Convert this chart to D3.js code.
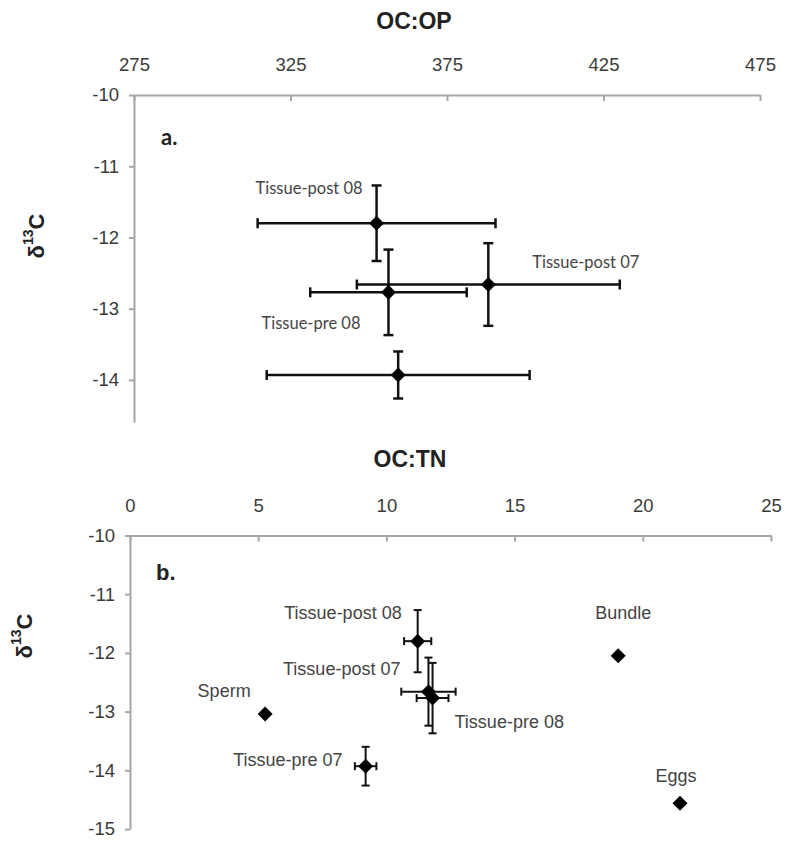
<!DOCTYPE html>
<html>
<head>
<meta charset="utf-8">
<script src="https://cdn.jsdelivr.net/npm/d3@7/dist/d3.min.js"></script>
<style>
  html, body { margin: 0; padding: 0; background: #fff; }
  svg { display: block; }
</style>
</head>
<body>
<svg id="chart" width="787" height="842"></svg>
<script>
// Tissue groups (shared by both panels)
const tissueGroups = ["Tissue-post 08", "Tissue-pre 08", "Tissue-post 07", "Tissue-pre 07"];
const tissueD13C = [-11.80, -12.77, -12.66, -13.93];
const tissueD13CErr = [0.53, 0.60, 0.58, 0.33];

// Panel a: OC:OP
const tissueOCOP = [352.5, 356.3, 388.2, 359.4];
const tissueOCOPErr = [38, 25, 42, 42];

// Panel b: OC:TN
const tissueOCTN = [11.22, 11.80, 11.64, 9.19];
const tissueOCTNErr = [0.53, 0.62, 1.06, 0.42];

// Reproductive samples (panel b only, no error bars)
const sampleNames = ["Sperm", "Bundle", "Eggs"];
const sampleOCTN = [5.27, 19.04, 21.45];
const sampleD13C = [-13.04, -12.05, -14.56];

// Axis ticks
const ocopTicks = [275, 325, 375, 425, 475];
const octnTicks = [0, 5, 10, 15, 20, 25];
const d13cTicksA = [-10, -11, -12, -13, -14];
const d13cTicksB = [-10, -11, -12, -13, -14, -15];

const svg = d3.select("#chart");
const AXIS_COLOR = "#a6a6a6";
const TICK_TEXT = "#3a3a3a";
const plainFormat = d => String(d); // keep ASCII hyphen-minus, no decimals

function diamond(sel, x, y, r) {
  sel.append("path")
    .attr("d", `M${x},${y - r}L${x + r},${y}L${x},${y + r}L${x - r},${y}Z`)
    .attr("fill", "#000");
}

function errorBars(g, cx, cy, x0, x1, y0, y1, cap, sw) {
  const stroke = "#111";
  g.append("line").attr("x1", x0).attr("x2", x1).attr("y1", cy).attr("y2", cy)
    .attr("stroke", stroke).attr("stroke-width", sw);
  [x0, x1].forEach(x => g.append("line").attr("x1", x).attr("x2", x)
    .attr("y1", cy - cap).attr("y2", cy + cap).attr("stroke", stroke).attr("stroke-width", sw));
  g.append("line").attr("x1", cx).attr("x2", cx).attr("y1", y0).attr("y2", y1)
    .attr("stroke", stroke).attr("stroke-width", sw);
  [y0, y1].forEach(y => g.append("line").attr("x1", cx - cap).attr("x2", cx + cap)
    .attr("y1", y).attr("y2", y).attr("stroke", stroke).attr("stroke-width", sw));
}

function styleAxis(g) {
  g.select(".domain").attr("stroke", AXIS_COLOR).attr("stroke-width", 2);
  g.selectAll(".tick line").attr("stroke", AXIS_COLOR).attr("stroke-width", 2);
  g.selectAll(".tick text")
    .attr("fill", TICK_TEXT)
    .style("font-family", "'Liberation Sans', Arial, sans-serif")
    .style("font-size", "18.5px");
}

function yTitle(x, y) {
  const t = svg.append("text")
    .attr("transform", `translate(${x},${y}) rotate(-90)`)
    .attr("text-anchor", "middle")
    .attr("dominant-baseline", "central")
    .style("font-family", "'Liberation Sans', Arial, sans-serif")
    .style("font-weight", "bold")
    .style("font-size", "22px")
    .attr("fill", "#222");
  t.append("tspan").text("δ");
  t.append("tspan").text("13").style("font-size", "14px").attr("dy", "-8");
  t.append("tspan").text("C").attr("dy", "8");
}

function xTitle(x, y, txt) {
  svg.append("text")
    .attr("x", x).attr("y", y)
    .attr("text-anchor", "middle")
    .attr("dominant-baseline", "central")
    .style("font-family", "'Liberation Sans', Arial, sans-serif")
    .style("font-weight", "bold")
    .style("font-size", "23px")
    .attr("fill", "#222")
    .text(txt);
}

function panelLetter(x, y, txt, font) {
  svg.append("text")
    .attr("x", x).attr("y", y)
    .attr("dominant-baseline", "central")
    .style("font-family", font)
    .style("font-weight", "bold")
    .style("font-size", "22px")
    .attr("fill", "#222")
    .text(txt);
}

function pointLabel(g, x, y, txt, anchor, font, size) {
  g.append("text")
    .attr("x", x).attr("y", y)
    .attr("text-anchor", anchor)
    .attr("dominant-baseline", "central")
    .style("font-family", font)
    .style("font-size", size)
    .attr("fill", "#444")
    .text(txt);
}

// ---------------- Panel a ----------------
{
  const left = 134, right = 760, top = 95, bottom = 422;
  const x = d3.scaleLinear().domain([275, 475]).range([left, right]);
  const y = d3.scaleLinear().domain([-10, -14.59]).range([top, bottom]);

  const gx = svg.append("g").attr("transform", `translate(0,${top})`)
    .call(d3.axisTop(x).tickValues(ocopTicks).tickFormat(plainFormat)
      .tickSizeInner(-6).tickSizeOuter(0).tickPadding(24));
  styleAxis(gx);
  const gy = svg.append("g").attr("transform", `translate(${left},0)`)
    .call(d3.axisLeft(y).tickValues(d13cTicksA).tickFormat(plainFormat)
      .tickSizeInner(5).tickSizeOuter(0).tickPadding(10));
  styleAxis(gy);

  xTitle(414, 21, "OC:OP");
  yTitle(36, 236);
  panelLetter(161, 136, "a.", "Lato, 'Open Sans', sans-serif");

  const g = svg.append("g");
  const labelFont = "Lato, 'Open Sans', sans-serif";
  // label placement per group: [anchor, dx, dy] relative to the point
  const labelPlace = [["end", -14, -35], ["end", -28, 31], ["start", 44, -23], null];

  tissueGroups.forEach((name, i) => {
    const cx = x(tissueOCOP[i]), cy = y(tissueD13C[i]);
    errorBars(g, cx, cy,
      x(tissueOCOP[i] - tissueOCOPErr[i]), x(tissueOCOP[i] + tissueOCOPErr[i]),
      y(tissueD13C[i] + tissueD13CErr[i]), y(tissueD13C[i] - tissueD13CErr[i]), 5, 2.5);
  });
  tissueGroups.forEach((name, i) => {
    const cx = x(tissueOCOP[i]), cy = y(tissueD13C[i]);
    diamond(g, cx, cy, 7.5);
    const p = labelPlace[i];
    if (p) pointLabel(g, cx + p[1], cy + p[2], name, p[0], labelFont, "16.5px");
  });
}

// ---------------- Panel b ----------------
{
  const left = 130, right = 771, top = 535.5, bottom = 829;
  const x = d3.scaleLinear().domain([0, 25]).range([left, right]);
  const y = d3.scaleLinear().domain([-10, -15]).range([top, bottom]);

  const gx = svg.append("g").attr("transform", `translate(0,${top})`)
    .call(d3.axisTop(x).tickValues(octnTicks).tickFormat(plainFormat)
      .tickSizeInner(-6).tickSizeOuter(0).tickPadding(24));
  styleAxis(gx);
  const gy = svg.append("g").attr("transform", `translate(${left},0)`)
    .call(d3.axisLeft(y).tickValues(d13cTicksB).tickFormat(plainFormat)
      .tickSizeInner(5).tickSizeOuter(0).tickPadding(10));
  styleAxis(gy);

  xTitle(410, 459, "OC:TN");
  yTitle(24, 636);
  panelLetter(156, 572, "b.", "'Liberation Sans', Arial, sans-serif");

  const g = svg.append("g");
  const labelFont = "'Liberation Sans', Arial, sans-serif";
  const tissuePlace = [["end", -16, -28], ["start", 22, 24], ["end", -28, -23], ["end", -23, -6]];
  const samplePlace = [["middle", -41, -23], ["middle", 5, -43], ["middle", -4, -27]];

  tissueGroups.forEach((name, i) => {
    const cx = x(tissueOCTN[i]), cy = y(tissueD13C[i]);
    errorBars(g, cx, cy,
      x(tissueOCTN[i] - tissueOCTNErr[i]), x(tissueOCTN[i] + tissueOCTNErr[i]),
      y(tissueD13C[i] + tissueD13CErr[i]), y(tissueD13C[i] - tissueD13CErr[i]), 4, 2);
  });
  tissueGroups.forEach((name, i) => {
    const cx = x(tissueOCTN[i]), cy = y(tissueD13C[i]);
    diamond(g, cx, cy, 7.5);
    const p = tissuePlace[i];
    pointLabel(g, cx + p[1], cy + p[2], name, p[0], labelFont, "18px");
  });
  sampleNames.forEach((name, i) => {
    const cx = x(sampleOCTN[i]), cy = y(sampleD13C[i]);
    diamond(g, cx, cy, 7.5);
    const p = samplePlace[i];
    pointLabel(g, cx + p[1], cy + p[2], name, p[0], labelFont, "18px");
  });
}
</script>
</body>
</html>
